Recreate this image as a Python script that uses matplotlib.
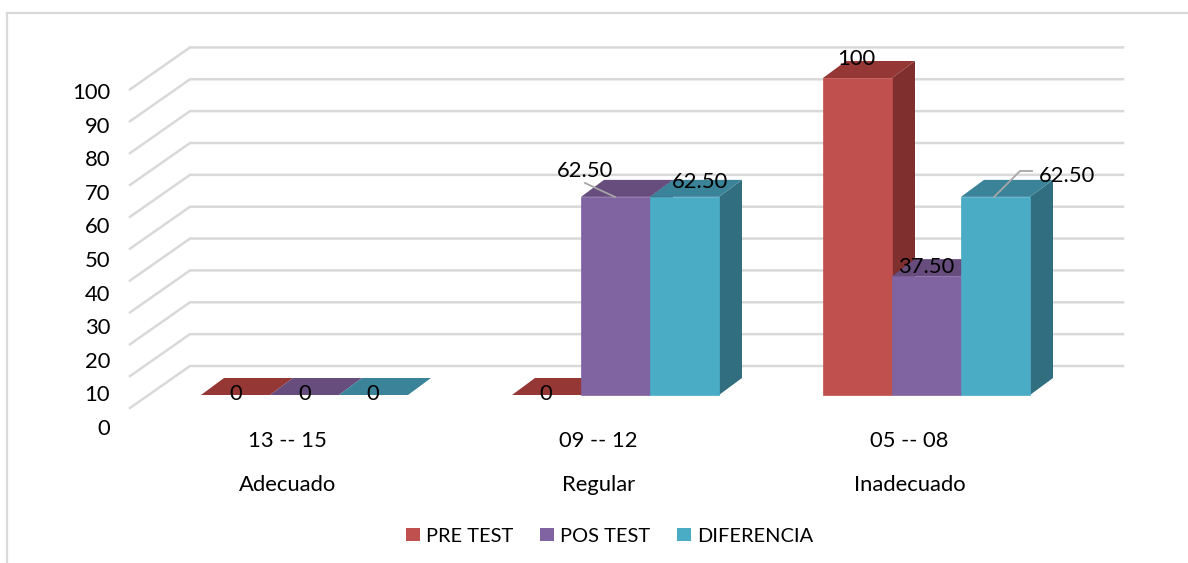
import matplotlib
matplotlib.use("Agg")
import matplotlib.pyplot as plt
from matplotlib.patches import Patch

categories = ["13 -- 15", "09 -- 12", "05 -- 08"]
groups = ["Adecuado", "Regular", "Inadecuado"]
series = ["PRE TEST", "POS TEST", "DIFERENCIA"]
pre_test = [0, 0, 100]
pos_test = [0, 62.5, 37.5]
diferencia = [0, 62.5, 62.5]
y_ticks = [0, 10, 20, 30, 40, 50, 60, 70, 80, 90, 100]
pre_labels = ["0", "0", "100"]
pos_labels = ["0", "62.50", "37.50"]
dif_labels = ["0", "62.50", "62.50"]

front = ["#C0504D", "#8064A2", "#4BACC6"]
top = ["#953735", "#664D7E", "#3A8398"]
side = ["#7F302E", "#5A4772", "#316F80"]
grid_col = "#D9D9D9"
text_col = "#000000"

W, H = 1188, 563
plt.rcParams["font.family"] = ["Lato", "DejaVu Sans"]
fig = plt.figure(figsize=(W / 100, H / 100), dpi=100)

# main axes fills the figure, x = category index, y = value
px_per_cat = 311.0
px_per_val = 3.17
x0_px = 304.5
y0_px = 395.0
ax = fig.add_axes([0, 0, 1, 1])
ax.set_xlim(-x0_px / px_per_cat, (W - x0_px) / px_per_cat)
ax.set_ylim((y0_px - H) / px_per_val, y0_px / px_per_val)
ax.axis("off")

def dx(px):
    return px / px_per_cat

def dy(px):
    return px / px_per_val

def px(x_px, y_px):
    # pixel position of the picture to data position
    return (x_px - x0_px) / px_per_cat, (y0_px - y_px) / px_per_val

# outer frame, only top and left show
fx, fy = px(7, 13)
fx2, _ = px(W, 13)
_, fy2 = px(7, H)
ax.plot([fx, fx2], [fy, fy], color=grid_col, lw=1.6, zorder=1)
ax.plot([fx, fx], [fy, fy2], color=grid_col, lw=1.6, zorder=1)

# walls
back_x, back_bottom = px(190, 366)
front_x, _ = px(130, 408)
wall_right, _ = px(1123, 0)
for v in y_ticks:
    yb = back_bottom + v * 1.005
    yf = yb - dy(42)
    ax.plot([front_x, back_x, wall_right], [yf, yb, yb], color=grid_col, lw=1.8,
            solid_joinstyle="miter", zorder=1)

# bars, left to right so later fronts cover earlier side faces
bar_w = 69.0 / px_per_cat
off_x, off_y = dx(23), dy(17)
z = 2
for i in range(len(categories)):
    for j, vals in enumerate([pre_test, pos_test, diferencia]):
        v = vals[i]
        l = i + (j - 1.5) * bar_w
        r = l + bar_w
        ax.fill([r, r + off_x, r + off_x, r], [0, off_y, v + off_y, v], color=side[j], lw=0, zorder=z)
        ax.fill([l, l + off_x, r + off_x, r], [v, v + off_y, v + off_y, v], color=top[j], lw=0, zorder=z)
        if v > 0:
            ax.bar(l, v, width=bar_w, align="edge", color=front[j], edgecolor=front[j], lw=0.5, zorder=z)
        z += 1

# leader lines
lx, ly = zip(px(585, 183), px(615, 197))
ax.plot(lx, ly, color="#A6A6A6", lw=1.3, zorder=z)
lx, ly = zip(px(994, 197), px(1020, 171), px(1032, 171))
ax.plot(lx, ly, color="#A6A6A6", lw=1.3, zorder=z)

# data labels
fs = 15.8
label_px = {
    (0, 0): (236, 394), (1, 0): (546, 394), (2, 0): (856, 59),
    (0, 1): (305, 394), (1, 1): (585, 171), (2, 1): (926, 267),
    (0, 2): (373, 394), (1, 2): (700, 182), (2, 2): (1067, 176),
}
for j, labs in enumerate([pre_labels, pos_labels, dif_labels]):
    for i, lab in enumerate(labs):
        tx, ty = px(*label_px[(i, j)])
        ax.text(tx, ty, lab, ha="center", va="center", fontsize=fs, color=text_col, zorder=z + 1)

# category labels
for i, (c, g) in enumerate(zip(categories, groups)):
    ax.text(i - dx(17), dy(-46), c, ha="center", va="center", fontsize=fs, color=text_col)
    ax.text(i - dx(17), dy(-90), g, ha="center", va="center", fontsize=fs, color=text_col)

# y axis has its own scale, labels sit apart from the walls
ax_y = fig.add_axes([0, (H - 429) / H, 110 / W, (429 - 93) / H])
ax_y.set_ylim(0, 100)
ax_y.set_xlim(0, 1)
ax_y.patch.set_visible(False)
for s in ax_y.spines.values():
    s.set_visible(False)
ax_y.set_xticks([])
ax_y.set_yticks([])
for v in y_ticks:
    ax_y.text(1, v, str(v), ha="right", va="center", fontsize=fs, color=text_col)

handles = [Patch(color=front[k], lw=0) for k in range(3)]
leg = ax.legend(handles, series, ncol=3, loc="center", frameon=False,
                bbox_to_anchor=(609.5 / W, 1 - 536 / H), fontsize=14.4,
                handlelength=0.7, handleheight=0.65, handletextpad=0.3, columnspacing=1.35,
                borderpad=0, borderaxespad=0)

fig.savefig("out.png", dpi=100)
